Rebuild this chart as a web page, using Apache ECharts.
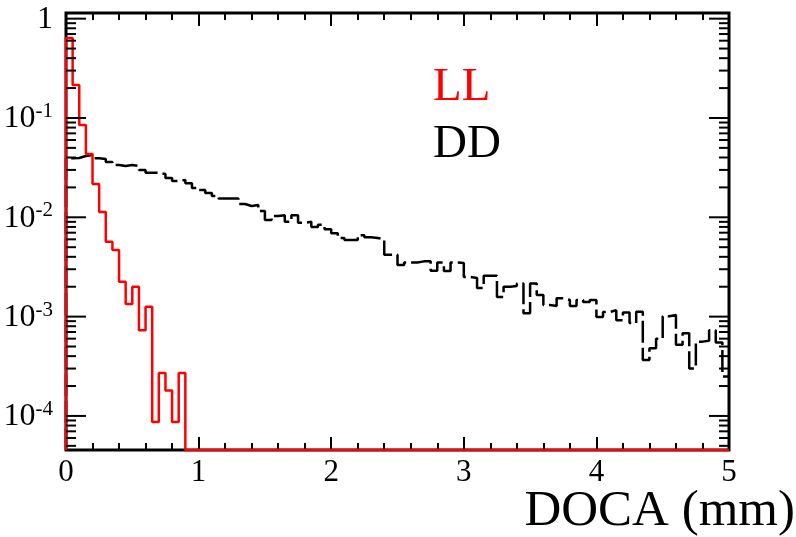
<!DOCTYPE html>
<html><head><meta charset="utf-8">
<script src="https://cdn.jsdelivr.net/npm/echarts@6/dist/echarts.min.js"></script>
<style>html,body{margin:0;padding:0;background:#fff}#c{width:796px;height:537px}</style>
</head><body><div id="c"></div>
<script>
// DOCA distributions, 100 bins of 0.05 mm from 0 to 5 mm
const binWidth = 0.05;
const xTicks = [0, 1, 2, 3, 4, 5];
const llValues = [
  0.64, 0.215, 0.085, 0.0434, 0.0216, 0.0113, 0.00568, 0.00469, 0.00225, 0.00134,
  0.0020, 0.00073, 0.00126, 0.000087, 0.00027, 0.00018, 0.000087, 0.00027, 0, 0,
  0, 0, 0, 0, 0, 0, 0, 0, 0, 0,
  0, 0, 0, 0, 0, 0, 0, 0, 0, 0,
  0, 0, 0, 0, 0, 0, 0, 0, 0, 0,
  0, 0, 0, 0, 0, 0, 0, 0, 0, 0,
  0, 0, 0, 0, 0, 0, 0, 0, 0, 0,
  0, 0, 0, 0, 0, 0, 0, 0, 0, 0,
  0, 0, 0, 0, 0, 0, 0, 0, 0, 0,
  0, 0, 0, 0, 0, 0, 0, 0, 0, 0
];
const ddValues = [
  0.0393, 0.0396, 0.0414, 0.0424, 0.0393, 0.0387, 0.0361, 0.0337, 0.0329, 0.0337,
  0.0329, 0.0299, 0.0281, 0.0281, 0.0273, 0.0249, 0.0232, 0.0238, 0.0220, 0.0197,
  0.0188, 0.0176, 0.0164, 0.0155, 0.0155, 0.0155, 0.0136, 0.0130, 0.0133, 0.0116,
  0.0094, 0.0103, 0.0105, 0.0090, 0.0105, 0.0088, 0.0090, 0.0080, 0.0084, 0.0076,
  0.0069, 0.0062, 0.0059, 0.0059, 0.0066, 0.0063, 0.0062, 0.0060, 0.0042, 0.0042,
  0.0033, 0.0035, 0.0035, 0.0036, 0.0036, 0.0029, 0.0035, 0.00288, 0.0035, 0.00347,
  0.00251, 0.00245, 0.00194, 0.00258, 0.00258, 0.00158, 0.00200, 0.00203, 0.00216, 0.00108,
  0.00216, 0.00165, 0.00131, 0.00128, 0.00153, 0.00147, 0.00128, 0.00147, 0.00140, 0.00147,
  0.00099, 0.00111, 0.00116, 0.00092, 0.00110, 0.00086, 0.00112, 0.000366, 0.00048, 0.00060,
  0.00101, 0.00104, 0.00052, 0.00068, 0.00030, 0.00056, 0.00057, 0.00073, 0.00055, 0.00025
];
const yMajorTicks = [0.0001, 0.001, 0.01, 0.1, 1];
const yMinorTicks = [
  0.00005, 0.00006, 0.00007, 0.00008, 0.00009,
  0.0002, 0.0003, 0.0004, 0.0005, 0.0006, 0.0007, 0.0008, 0.0009,
  0.002, 0.003, 0.004, 0.005, 0.006, 0.007, 0.008, 0.009,
  0.02, 0.03, 0.04, 0.05, 0.06, 0.07, 0.08, 0.09,
  0.2, 0.3, 0.4, 0.5, 0.6, 0.7, 0.8, 0.9
];
const Y_MIN = 4.54e-5, Y_MAX = 1.14, X_MIN = 0, X_MAX = 5;
const FONT = '"Liberation Serif", "Times New Roman", serif';

function histData(vals) {
  const d = [[X_MIN, Y_MIN]];
  vals.forEach((v, i) => d.push([+(i * binWidth).toFixed(4), v > 0 ? v : Y_MIN]));
  const last = vals[vals.length - 1];
  d.push([X_MAX, last > 0 ? last : Y_MIN]);
  return d;
}

const tickData = yMajorTicks.map(v => [0, v, 1]).concat(yMinorTicks.map(v => [0, v, 0]));

const chart = echarts.init(document.getElementById('c'), null, {renderer: 'canvas'});
const xAxisBase = {
  type: 'value', min: X_MIN, max: X_MAX, interval: 1,
  axisLine: {show: false},
  axisTick: {show: true, inside: true, length: 13, lineStyle: {color: '#000', width: 2}},
  minorTick: {show: true, splitNumber: 5, length: 7, lineStyle: {color: '#000', width: 2}},
  splitLine: {show: false}, minorSplitLine: {show: false}
};
chart.setOption({
  animation: false,
  backgroundColor: '#fff',
  grid: {left: 66, top: 13, right: 67, bottom: 87, show: true, borderColor: '#000', borderWidth: 3, backgroundColor: 'transparent'},
  xAxis: [
    Object.assign({}, xAxisBase, {
      position: 'bottom',
      axisLabel: {show: true, margin: 7, color: '#000', fontFamily: FONT, fontSize: 31,
        formatter: v => xTicks.indexOf(v) >= 0 ? String(v) : ''}
    }),
    Object.assign({}, xAxisBase, {position: 'top', axisLabel: {show: false}})
  ],
  yAxis: {
    type: 'log', logBase: 10, min: Y_MIN, max: Y_MAX,
    axisLine: {show: false}, axisTick: {show: false},
    splitLine: {show: false}, minorTick: {show: false}, minorSplitLine: {show: false},
    axisLabel: {
      show: true, margin: 13, color: '#000', fontFamily: FONT, fontSize: 32,
      formatter: function (v) {
        const l = Math.log10(v), e = Math.round(l);
        if (Math.abs(l - e) > 1e-6) return '';
        if (e === 0) return '{b|1}';
        return '{b|10}{s|' + e + '}';
      },
      rich: {
        b: {fontFamily: FONT, fontSize: 32, color: '#000', lineHeight: 34, verticalAlign: 'bottom'},
        s: {fontFamily: FONT, fontSize: 21, color: '#000', lineHeight: 22, verticalAlign: 'top'}
      }
    }
  },
  series: [
    {
      name: 'DD', type: 'line', step: 'end', data: histData(ddValues), showSymbol: false, symbol: 'none',
      lineStyle: {color: '#000', width: 2.5, type: [22, 5]}, clip: false, z: 3
    },
    {
      name: 'LL', type: 'line', step: 'end', data: histData(llValues), showSymbol: false, symbol: 'none',
      lineStyle: {color: '#ff0000', width: 2.5}, clip: false, z: 4
    },
    {
      name: 'yticks', type: 'custom', data: tickData, encode: {x: 0, y: 1}, silent: true, clip: false, z: 5,
      renderItem: function (params, api) {
        const v = api.value(1);
        const L = api.value(2) === 1 ? 20 : 10;
        const a = api.coord([X_MIN, v]), b = api.coord([X_MAX, v]);
        return {type: 'group', children: [
          {type: 'line', shape: {x1: a[0], y1: a[1], x2: a[0] + L, y2: a[1]}, style: {stroke: '#000', lineWidth: 2}},
          {type: 'line', shape: {x1: b[0] - L, y1: b[1], x2: b[0], y2: b[1]}, style: {stroke: '#000', lineWidth: 2}}
        ]};
      }
    }
  ],
  graphic: [
    {type: 'text', left: 433, top: 64, style: {text: 'LL', fill: '#ff0000', font: '47px ' + FONT}},
    {type: 'text', left: 433, top: 121, style: {text: 'DD', fill: '#000', font: '47px ' + FONT}},
    {type: 'text', right: 1, top: 486, style: {text: 'DOCA (mm)', fill: '#000', font: '51px ' + FONT}}
  ]
});
</script></body></html>
